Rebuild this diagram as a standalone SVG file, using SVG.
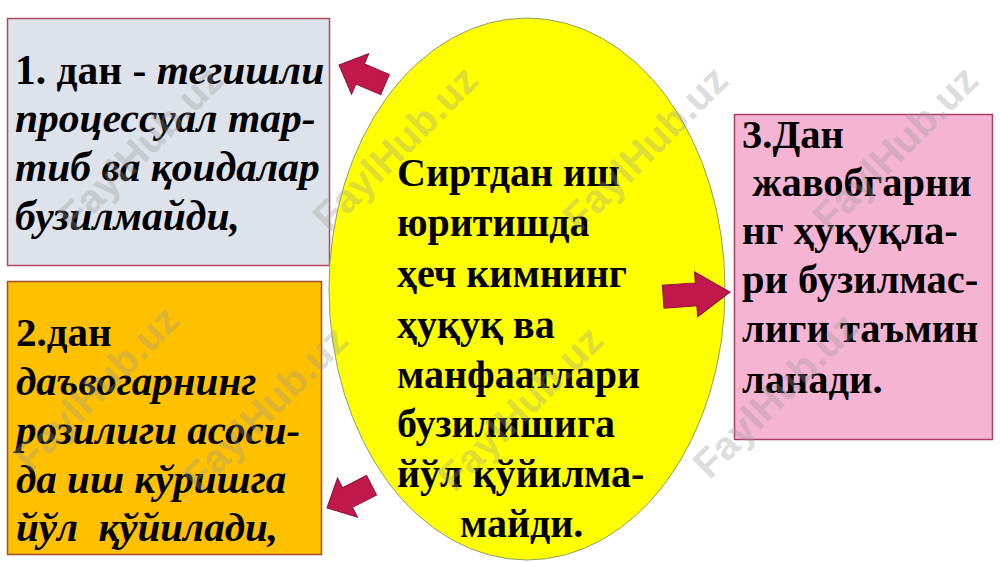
<svg xmlns="http://www.w3.org/2000/svg" width="1000" height="562" viewBox="0 0 1000 562">
<style>
.t{font-family:"Liberation Serif","Times New Roman",serif;font-weight:bold;font-size:41px;fill:#000}
.i{font-style:italic}
.b1{font-size:41.5px}
.b3{font-size:40.5px}
.c{font-size:40px}
.arr{fill:#c0184a;stroke:#8c1236;stroke-width:1;stroke-linejoin:miter}
.wm{font-family:"Liberation Sans",Arial,sans-serif;font-weight:bold;font-size:40px;fill:#9a9a9a;opacity:0.33}
</style>
<rect width="1000" height="562" fill="#ffffff"/>
<g id="node-left-top">
<rect x="7.5" y="18.5" width="322" height="247" fill="#dee2ea" stroke="#b04a60" stroke-width="1.5"/>
<text class="t b1" x="15" y="84">1. дан - <tspan class="i">тегишли</tspan></text>
<text class="t b1 i" x="15" y="132">процессуал тар-</text>
<text class="t b1 i" x="15" y="181">тиб ва қоидалар</text>
<text class="t b1 i" x="15" y="230">бузилмайди,</text>
</g>
<g id="node-left-bottom">
<rect x="7.5" y="281.5" width="314" height="273" fill="#ffc000" stroke="#a0502a" stroke-width="1.5"/>
<text class="t" x="16" y="346">2.дан</text>
<text class="t i" x="16" y="395">даъвогарнинг</text>
<text class="t i" x="16" y="444">розилиги асоси-</text>
<text class="t i" x="16" y="493">да иш кўришга</text>
<text class="t i" x="16" y="541" xml:space="preserve">йўл  қўйилади,</text>
</g>
<g id="node-right">
<rect x="734.5" y="114.5" width="258" height="325" fill="#f4b4d2" stroke="#a8406a" stroke-width="1.5"/>
<text class="t b3" x="742" y="148">3.Дан</text>
<text class="t b3" x="742" y="196" xml:space="preserve"> жавобгарни</text>
<text class="t b3" x="742" y="244">нг ҳуқуқла-</text>
<text class="t b3" x="742" y="293">ри бузилмас-</text>
<text class="t b3" x="742" y="342">лиги таъмин</text>
<text class="t b3" x="742" y="393">ланади.</text>
</g>
<g id="node-center">
<ellipse cx="527" cy="289" rx="198" ry="271" fill="#ffff00" stroke="#8aa070" stroke-width="1"/>
<text class="t c" x="397" y="186">Сиртдан иш</text>
<text class="t c" x="397" y="236">юритишда</text>
<text class="t c" x="397" y="287">ҳеч кимнинг</text>
<text class="t c" x="397" y="338">ҳуқуқ ва</text>
<text class="t c" x="397" y="388">манфаатлари</text>
<text class="t c" x="397" y="437">бузилишига</text>
<text class="t c" x="397" y="487">йўл қўйилма-</text>
<text class="t c" x="460" y="537">майди.</text>
</g>
<g id="connectors">
<polygon class="arr" transform="translate(339,65) rotate(23)" points="0,0 23,-22 23,-11 50,-11 50,11 23,11 23,22"/>
<polygon class="arr" transform="translate(327,508) rotate(-27)" points="0,0 23,-22 23,-11 50,-11 50,11 23,11 23,22"/>
<polygon class="arr" transform="translate(730,292) rotate(176)" points="0,0 34,-22.5 34,-11.5 67,-11.5 67,11.5 34,11.5 34,22.5"/>
</g>
<g id="watermark">
<text class="wm" transform="translate(150,158) rotate(-45)" text-anchor="middle">FaylHub.uz</text>
<text class="wm" transform="translate(405,158) rotate(-45)" text-anchor="middle">FaylHub.uz</text>
<text class="wm" transform="translate(655,158) rotate(-45)" text-anchor="middle">FaylHub.uz</text>
<text class="wm" transform="translate(905,158) rotate(-45)" text-anchor="middle">FaylHub.uz</text>
<text class="wm" transform="translate(106,398) rotate(-45)" text-anchor="middle">FaylHub.uz</text>
<text class="wm" transform="translate(275,418) rotate(-45)" text-anchor="middle">FaylHub.uz</text>
<text class="wm" transform="translate(530,418) rotate(-45)" text-anchor="middle">FaylHub.uz</text>
<text class="wm" transform="translate(785,405) rotate(-45)" text-anchor="middle">FaylHub.uz</text>
</g>
</svg>
